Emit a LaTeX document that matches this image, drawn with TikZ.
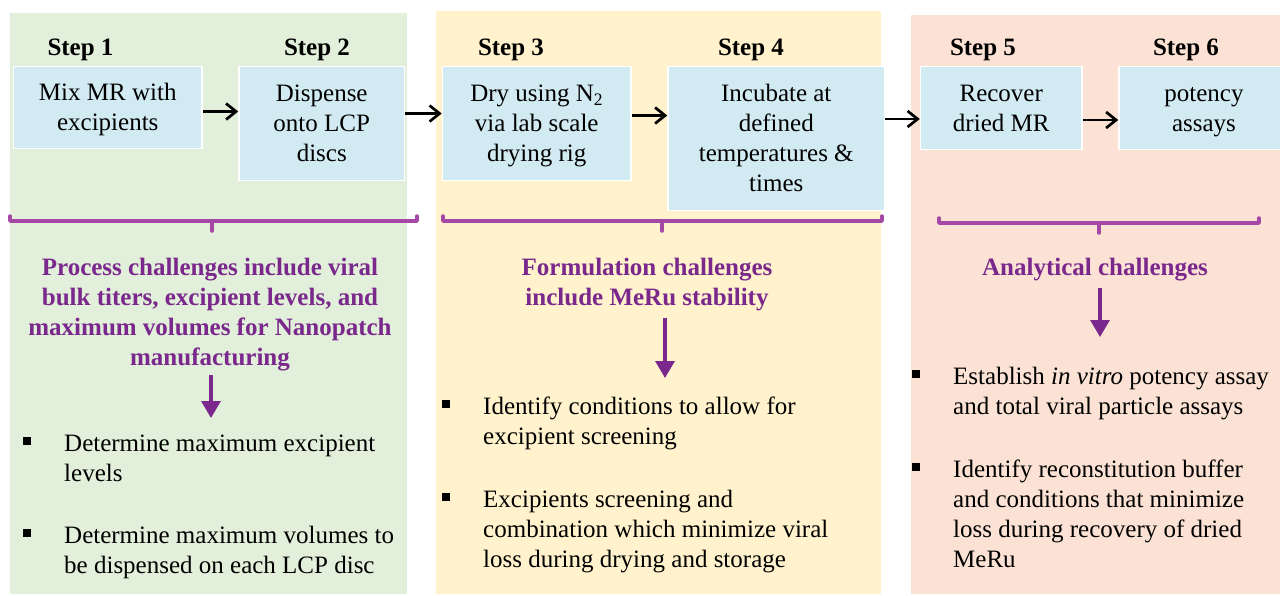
\documentclass[tikz,border=0pt]{standalone}
\usepackage{fontspec}
\setmainfont{Liberation Serif}
\usetikzlibrary{arrows.meta,positioning}
\definecolor{greenP}{RGB}{226,239,218}
\definecolor{yellowP}{RGB}{255,242,204}
\definecolor{pinkP}{RGB}{251,226,212}
\definecolor{boxB}{RGB}{210,234,242}
\definecolor{purpleT}{RGB}{122,40,140}
\definecolor{braceC}{RGB}{165,72,165}
\newcommand{\topgap}{\rule{0pt}{25pt}}
\begin{document}
\begin{tikzpicture}[x=1pt,y=-1pt,
  every node/.style={font=\fontsize{25}{30}\selectfont, inner sep=0pt},
  panel/.style={rectangle, anchor=north west, inner sep=0pt},
  stepbox/.style={rectangle, anchor=north west, fill=boxB, draw=white, line width=1.5pt, align=center},
  steplabel/.style={anchor=base, font=\fontsize{25}{30}\selectfont\bfseries},
  challenge/.style={anchor=north, align=center, text=purpleT, font=\fontsize{25}{30}\selectfont\bfseries},
  item/.style={anchor=north west, align=left},
  bullet/.style={rectangle, fill=black, minimum size=7.5pt},
  flow/.style={-{Straight Barb[length=10pt,width=16pt]}, line width=2.7pt},
  down/.style={-{Triangle[width=19pt,length=17pt]}, line width=3.2pt, draw=purpleT},
  bracket/.style={line width=3.5pt, draw=braceC, line cap=round, line join=round}]
\useasboundingbox (0,0) rectangle (1280,595);
% background panels
\node[panel, fill=greenP, minimum width=397pt, minimum height=581pt] (P1) at (10,13) {};
\node[panel, fill=yellowP, minimum width=445pt, minimum height=583pt] (P2) at (436,11) {};
\node[panel, fill=pinkP, minimum width=369pt, minimum height=579pt] (P3) at (911,15) {};
% step boxes
\node[stepbox, minimum width=188.5pt, minimum height=82pt] (B1) at (12.75,65.75) {\topgap Mix MR with\\excipients\strut};
\node[stepbox, minimum width=165.5pt, minimum height=114pt] at ([xshift=35.5pt]B1.north east) (B2) {\topgap Dispense\\onto LCP\\discs\strut};
\node[stepbox, minimum width=188.5pt, minimum height=114pt] at ([xshift=36.5pt]B2.north east) (B3) {\topgap Dry using N\textsubscript{2}\\via lab scale\\drying rig\strut};
\node[stepbox, minimum width=216.5pt, minimum height=144pt] at ([xshift=35.5pt]B3.north east) (B4) {\topgap Incubate at\\defined\\temperatures \&\\times\strut};
\node[stepbox, minimum width=161.5pt, minimum height=83pt] at ([xshift=34.5pt]B4.north east) (B5) {\topgap Recover\\dried MR\strut};
\node[stepbox, minimum width=170pt, minimum height=83pt] at ([xshift=35.5pt]B5.north east) (B6) {\topgap potency\\assays\strut};
\node[steplabel] (S1) at (80.5,55) {Step 1};
\node[steplabel] (S2) at (317,55) {Step 2};
\node[steplabel] (S3) at (511,55) {Step 3};
\node[steplabel] (S4) at (751,55) {Step 4};
\node[steplabel] (S5) at (983,55) {Step 5};
\node[steplabel] (S6) at (1186,55) {Step 6};
\draw[flow] ([yshift=-4pt]B1.east) -- ([yshift=-4pt]B1.east -| B2.west);
\draw[flow] ([yshift=10pt]B2.east) -- ([yshift=10pt]B3.west);
\draw[flow] ([yshift=8pt]B3.east) -- ([yshift=8pt]B3.east -| B4.west);
\draw[flow] ([yshift=-11pt]B5.west -| B4.east) -- ([yshift=-11pt]B5.west);
\draw[flow] ([yshift=-12pt]B5.east) -- ([yshift=-12pt]B6.west);
% brackets
\draw[bracket] (10,216) -- (10,221) -- (417,221) -- (417,216) (212,221) -- (212,231);
\draw[bracket] (443,216) -- (443,221) -- (882,221) -- (882,216) (662,221) -- (662,231);
\draw[bracket] (939,218) -- (939,223) -- (1259,223) -- (1259,218) (1099,223) -- (1099,233);
% challenges
\node[challenge] (H1) at (210,254) {\strut Process challenges include viral\\bulk titers, excipient levels, and\\maximum volumes for Nanopatch\\manufacturing\strut};
\node[challenge] (H2) at (647,254) {\strut Formulation challenges\\include MeRu stability\strut};
\node[challenge] (H3) at (1095,254) {\strut Analytical challenges\strut};
% bullet lists
\node[item] (L1a) at (64,430) {\strut Determine maximum excipient\\levels};
\node[item] (L1b) at (64,522) {\strut Determine maximum volumes to\\be dispensed on each LCP disc};
\node[item] (L2a) at (483,393) {\strut Identify conditions to allow for\\excipient screening};
\node[item] (L2b) at (483,486) {\strut Excipients screening and\\combination which minimize viral\\loss during drying and storage};
\node[item] (L3a) at (953,363) {\strut Establish \textit{in vitro} potency assay\\and total viral particle assays};
\node[item] (L3b) at (953,456) {\strut Identify reconstitution buffer\\and conditions that minimize\\loss during recovery of dried\\MeRu};
\foreach \n in {L1a,L1b,L2a,L2b,L3a,L3b}
  \node[bullet] (d\n) at ([xshift=-37pt,yshift=-11pt]\n.north west) {};
\draw[down, shorten <=1pt, shorten >=12pt] ([xshift=1pt]H1.south) -- ([xshift=1pt]H1.south |- L1a.north);
\draw[down, shorten <=4pt, shorten >=15pt] ([xshift=18pt]H2.south) -- ([xshift=18pt]H2.south |- L2a.north);
\draw[down, shorten <=4pt, shorten >=26pt] ([xshift=5pt]H3.south) -- ([xshift=5pt]H3.south |- L3a.north);
\end{tikzpicture}
\end{document}
